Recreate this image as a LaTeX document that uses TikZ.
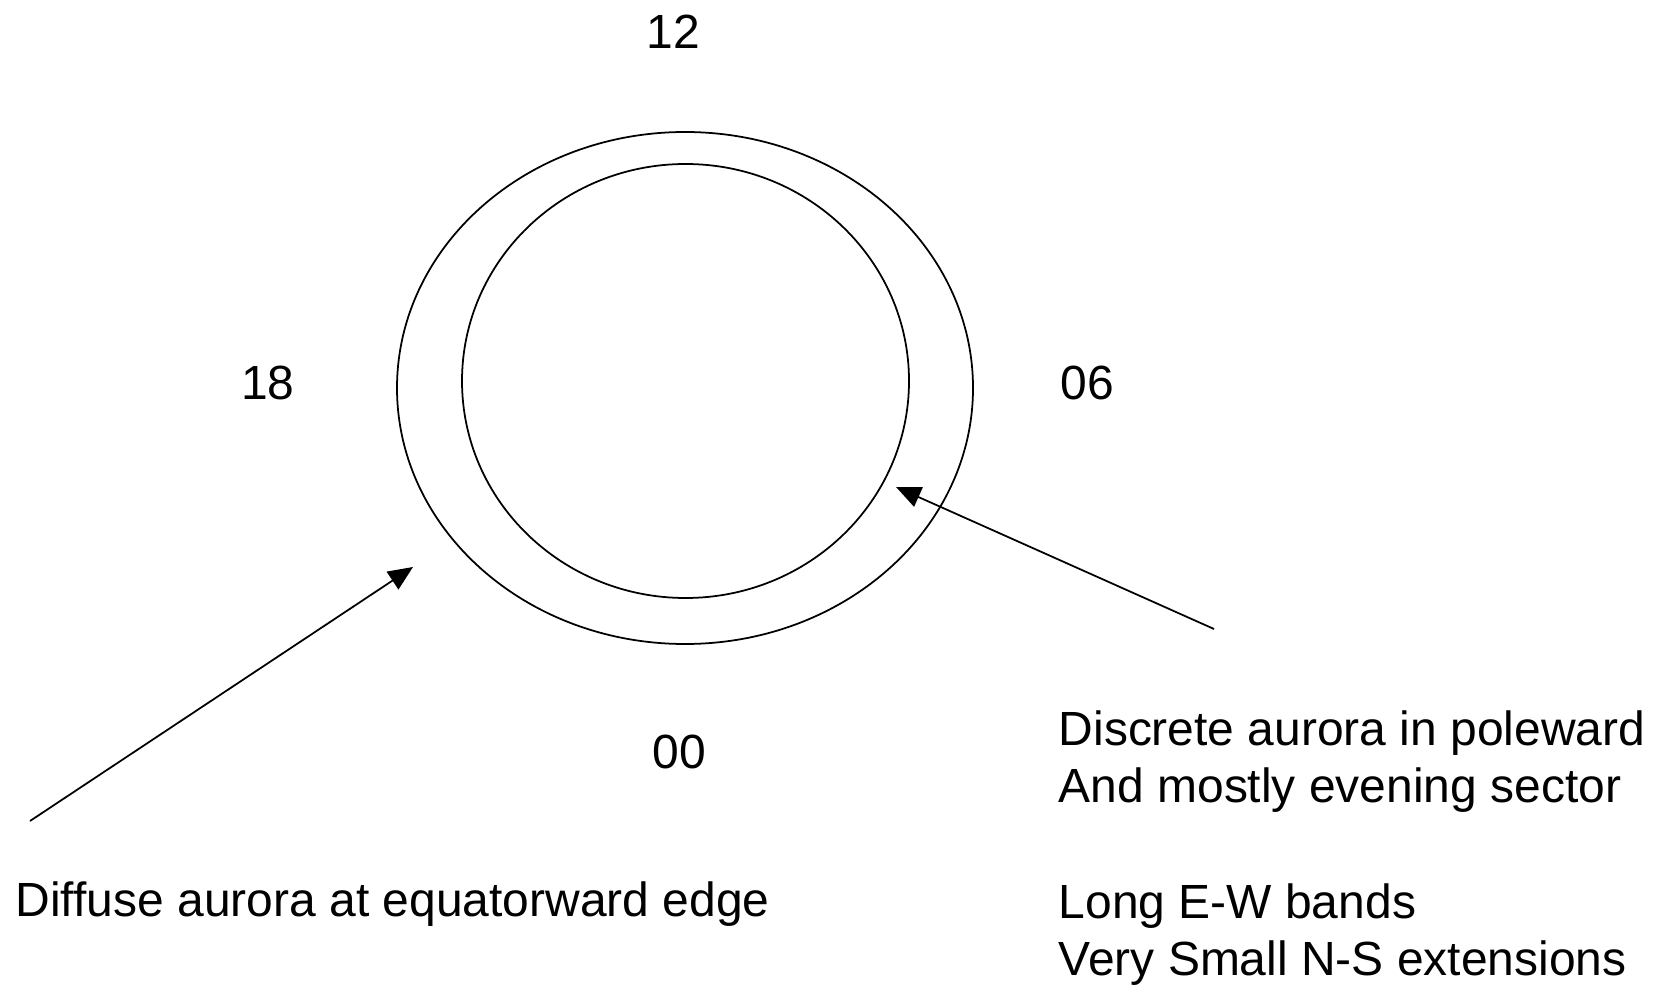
\documentclass[tikz,border=0pt]{standalone}
\usepackage{fontspec}
\setmainfont{Liberation Sans}
\usetikzlibrary{
  arrows.meta
}

\begin{document}
\begin{tikzpicture}[>={Triangle[length=7pt,width=6pt]}]

\useasboundingbox (0,0) rectangle (16.61,9.87);

\tikzset{
  lbl/.style={font=\fontsize{13.65}{16.4}\selectfont, inner sep=0pt},
  oval/.style={line width=0.5pt},
  ptr/.style={->, line width=0.5pt}
}

%--------------------
% オーバル
%--------------------
\draw[oval] (6.85,5.99) ellipse (2.88 and 2.56);
\draw[oval] (6.855,6.06) ellipse (2.235 and 2.17);

% 時刻
\node[lbl] (t12) at (6.73,9.55) {12};
\node[lbl] (t18) at (2.68,6.04) {18};
\node[lbl] (t06) at (10.87,6.04) {06};
\node[lbl] (t00) at (6.79,2.35) {00};

%--------------------
% 説明
%--------------------
\node[lbl, anchor=west] (diffuse) at (0.15,0.83)
  {Diffuse aurora at equatorward edge};

\node[lbl, anchor=west, align=left] (discrete) at (10.58,1.39)
  {Discrete aurora in poleward\\
   And mostly evening sector\\
   \strut\\
   Long E-W bands\\
   Very Small N-S extensions};

% 矢印
\coordinate (D0) at (0.30,1.66);
\coordinate (D1) at (4.13,4.20);
\coordinate (P0) at (12.14,3.58);
\coordinate (P1) at (8.96,5.00);

\draw[ptr] (D0) -- (D1);
\draw[ptr] (P0) -- (P1);

\end{tikzpicture}
\end{document}
